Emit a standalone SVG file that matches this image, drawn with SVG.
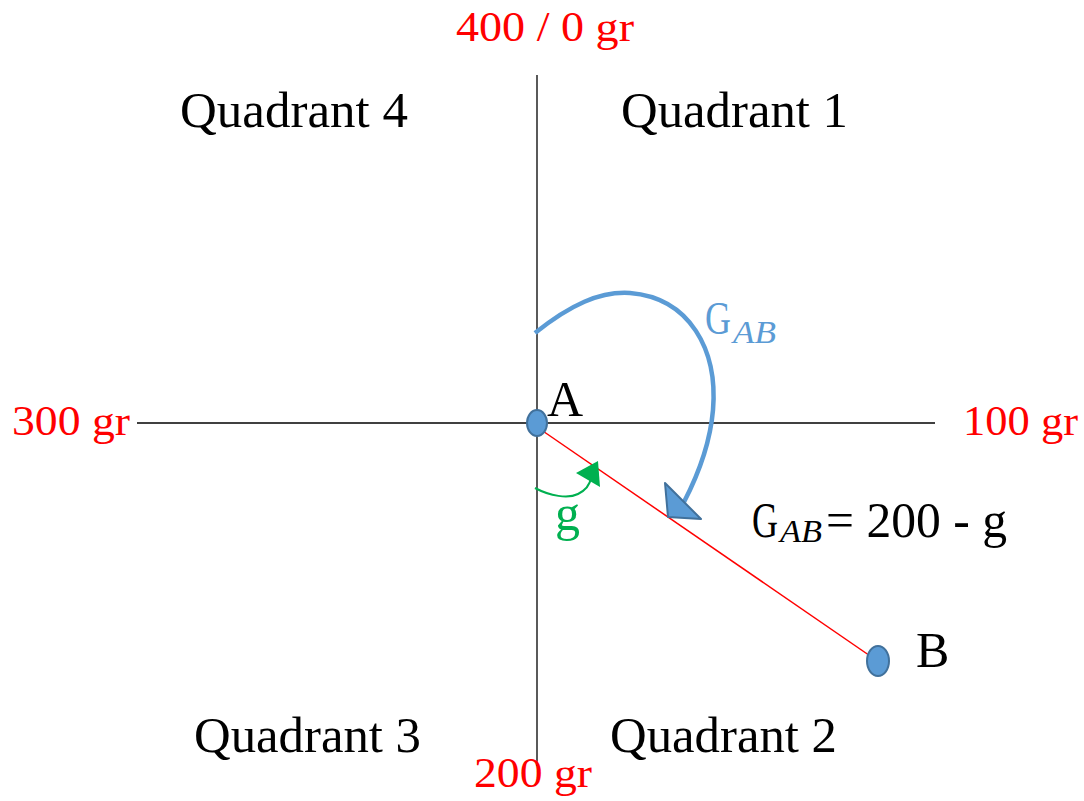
<svg xmlns="http://www.w3.org/2000/svg" width="1084" height="801" viewBox="0 0 1084 801">
<style>
  text { font-family: "Liberation Serif", "Times New Roman", serif; }
  .q { font-size: 50px; fill: #000; }
  .red { font-size: 43px; fill: #ff0000; }
  .axis { stroke: #000; stroke-width: 1.3; fill: none; }
  .pt { fill: #5b9bd5; stroke: #41719c; stroke-width: 2; }
  .sub { font-size: 32px; font-style: italic; }
</style>
<rect width="1084" height="801" fill="#fff"/>
<g id="axes">
  <line class="axis" x1="537" y1="75" x2="537" y2="766"/>
  <line class="axis" x1="137" y1="423" x2="935" y2="423"/>
</g>
<g id="labels">
  <text class="red" x="456" y="41" textLength="178" lengthAdjust="spacingAndGlyphs">400 / 0 gr</text>
  <text class="red" x="12" y="435" textLength="118" lengthAdjust="spacingAndGlyphs">300 gr</text>
  <text class="red" x="963" y="435" textLength="115" lengthAdjust="spacingAndGlyphs">100 gr</text>
  <text class="red" x="474" y="787" textLength="118" lengthAdjust="spacingAndGlyphs">200 gr</text>
  <text class="q" x="180" y="127" textLength="228" lengthAdjust="spacingAndGlyphs">Quadrant 4</text>
  <text class="q" x="621" y="127" textLength="227" lengthAdjust="spacingAndGlyphs">Quadrant 1</text>
  <text class="q" x="194" y="752" textLength="227" lengthAdjust="spacingAndGlyphs">Quadrant 3</text>
  <text class="q" x="610" y="752" textLength="227" lengthAdjust="spacingAndGlyphs">Quadrant 2</text>
</g>
<g id="connectors">
  <line x1="537" y1="427" x2="876" y2="660" stroke="#ff0000" stroke-width="1.5"/>
  <path d="M535,333 C570,305 600,291 630,293 C690,298 718,350 713,410 C710,445 698,475 684,502" fill="none" stroke="#5b9bd5" stroke-width="4.5"/>
  <polygon points="665,483 701,519 668,517" fill="#5b9bd5" stroke="#41719c" stroke-width="2" stroke-linejoin="round"/>
  <path d="M535,488 C550,496 568,499 578,494 C586,490 590,484 591,478" fill="none" stroke="#00b050" stroke-width="2"/>
  <polygon points="576,473 598,461 600,487" fill="#00b050"/>
</g>
<g id="pointA">
  <ellipse class="pt" cx="537" cy="423" rx="10" ry="13"/>
  <text class="q" x="547" y="416">A</text>
</g>
<g id="pointB">
  <ellipse class="pt" cx="878" cy="661" rx="11" ry="15"/>
  <text class="q" x="916" y="667">B</text>
</g>
<g id="gab-label" fill="#5b9bd5">
  <text x="705" y="334" font-size="46" textLength="26" lengthAdjust="spacingAndGlyphs">G</text>
  <text class="sub" x="733" y="343" textLength="43" lengthAdjust="spacingAndGlyphs">AB</text>
</g>
<g id="g-label">
  <text x="555" y="530" font-size="50" fill="#00b050">g</text>
</g>
<g id="formula" fill="#000">
  <text x="752" y="537" font-size="50" textLength="26" lengthAdjust="spacingAndGlyphs">G</text>
  <text class="sub" x="780" y="542" textLength="42" lengthAdjust="spacingAndGlyphs">AB</text>
  <text x="826" y="537" font-size="50" textLength="181" lengthAdjust="spacingAndGlyphs">= 200 - g</text>
</g>
</svg>
